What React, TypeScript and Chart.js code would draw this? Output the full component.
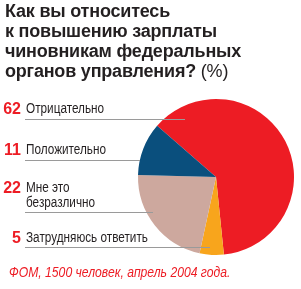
import React, { useEffect, useRef } from 'react';
import { Chart, registerables } from 'chart.js';

Chart.register(...registerables);

const titleLines = ['Как вы относитесь', 'к повышению зарплаты', 'чиновникам федеральных', 'органов управления?'];
const titleUnit = '(%)';
const categories: string[][] = [['Отрицательно'], ['Положительно'], ['Мне это', 'безразлично'], ['Затрудняюсь ответить']];
const values = [62, 11, 22, 5];
const colors = ['#ED1C24', '#0A4F7D', '#CDA89E', '#F8A51C'];
const pieOrder = [0, 3, 2, 1];
const source = 'ФОМ, 1500 человек, апрель 2004 года.';

// layout (pixels)
const labelY = [109, 150, 188, 238];
const leaderY = [119, 160, 212, 247];
const leaderEndX = [185, 140, 153, 210];
const leaderStartX = 25;

const sans = '"Liberation Sans", Arial, sans-serif';

export default function App() {
  const ref = useRef<HTMLCanvasElement | null>(null);
  useEffect(() => {
    if (!ref.current) return;
    const leaders = {
      id: 'leaders',
      afterDatasetsDraw(chart: any) {
        const ctx = chart.ctx;
        ctx.save();
        ctx.strokeStyle = '#9a9a9a';
        ctx.lineWidth = 1;
        leaderY.forEach((y, i) => {
          ctx.beginPath();
          ctx.moveTo(leaderStartX, y + 0.5);
          ctx.lineTo(leaderEndX[i], y + 0.5);
          ctx.stroke();
        });
        ctx.restore();
      },
    };
    const chart = new Chart(ref.current, {
      type: 'pie',
      data: {
        labels: pieOrder.map((i) => categories[i].join(' ')),
        datasets: [
          {
            data: pieOrder.map((i) => values[i]),
            backgroundColor: pieOrder.map((i) => colors[i]),
            borderWidth: 0,
          },
        ],
      },
      options: {
        animation: false,
        responsive: false,
        rotation: -49,
        layout: { padding: { left: 138, right: 7, top: 99, bottom: 34 } },
        plugins: { legend: { display: false }, tooltip: { enabled: false } },
      },
      plugins: [leaders],
    });
    return () => chart.destroy();
  }, []);

  return (
    <div style={{ position: 'fixed', left: 0, top: 0, width: 301, height: 289, background: '#fff', overflow: 'hidden' }}>
      <canvas ref={ref} width={301} height={289} style={{ position: 'absolute', left: 0, top: 0, width: 301, height: 289 }} />
      <div
        style={{
          position: 'absolute',
          left: 5,
          top: 1,
          font: 'bold 18px ' + sans,
          lineHeight: '20px',
          color: '#231f20',
          letterSpacing: '-0.2px',
          whiteSpace: 'nowrap',
        }}
      >
        {titleLines.map((l, i) => (
          <div key={i}>
            {l}
            {i === titleLines.length - 1 ? <span style={{ fontWeight: 'normal' }}> {titleUnit}</span> : null}
          </div>
        ))}
      </div>
      {categories.map((lines, i) => (
        <React.Fragment key={i}>
          <div
            style={{
              position: 'absolute',
              right: 301 - 21,
              top: labelY[i] - 9,
              font: 'bold 16px ' + sans,
              lineHeight: '18px',
              color: '#ED1C24',
              textAlign: 'right',
            }}
          >
            {values[i]}
          </div>
          <div
            style={{
              position: 'absolute',
              left: 26,
              top: labelY[i] - 8,
              font: '14px ' + sans,
              lineHeight: '15px',
              color: '#231f20',
              whiteSpace: 'nowrap',
              transform: 'scaleX(0.84)',
              transformOrigin: 'left center',
            }}
          >
            {lines.map((t, k) => (
              <div key={k}>{t}</div>
            ))}
          </div>
        </React.Fragment>
      ))}
      <div
        style={{
          position: 'absolute',
          left: 9,
          top: 264,
          font: 'italic 14px ' + sans,
          lineHeight: '16px',
          color: '#ED1C24',
          whiteSpace: 'nowrap',
          transform: 'scaleX(0.87)',
          transformOrigin: 'left center',
        }}
      >
        {source}
      </div>
    </div>
  );
}
